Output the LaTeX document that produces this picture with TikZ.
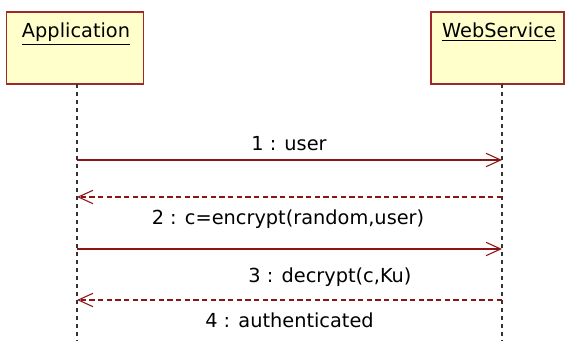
\documentclass[tikz,border=0pt]{standalone}
\usepackage{fontspec}
\setmainfont{DejaVu Sans}
\usetikzlibrary{arrows.meta}
\definecolor{boxfill}{RGB}{255,255,204}
\definecolor{boxline}{RGB}{160,40,40}
\definecolor{msgline}{RGB}{140,20,20}

\begin{document}
\begin{tikzpicture}[x=0.75pt,y=-0.75pt,
		lifebox/.style={draw=boxline,line width=1.2pt,fill=boxfill,minimum height=54pt,inner sep=0pt},
		lifeline/.style={draw=black!80,line width=1.1pt,dash pattern=on 3pt off 3pt},
		call/.style={draw=msgline,line width=0.8pt,-{Straight Barb[length=11pt,width=10pt]}},
		reply/.style={call,dash pattern=on 4pt off 2.5pt},
		msg/.style={anchor=base,font=\fontsize{14.5pt}{16pt}\selectfont,inner sep=0pt}]
		\useasboundingbox (0,0) rectangle (566,341);
		% 箱の描画
		\node[lifebox,minimum width=103pt] (app) at (75,48) {};
		\node[lifebox,minimum width=100pt] (ws) at (497.5,48) {};
		\node[msg] (app_name) at (76,38) {\underline{Application}};
		\node[msg] (ws_name) at (499,38) {\underline{WebService}};
		% 点の定義
		\coordinate (app_top) at (77,84);
		\coordinate (app_end) at (77,341);
		\coordinate (ws_top) at (502,84);
		\coordinate (ws_end) at (502,341);
		\coordinate (a1) at (77,160);
		\coordinate (w1) at (502,160);
		\coordinate (a2) at (77,197);
		\coordinate (w2) at (502,197);
		\coordinate (a3) at (77,249);
		\coordinate (w3) at (502,249);
		\coordinate (a4) at (77,300);
		\coordinate (w4) at (502,300);
		% 生存線の描画
		\draw[lifeline] (app_top)--(app_end);
		\draw[lifeline] (ws_top)--(ws_end);
		% メッセージの描画
		\draw[call] (a1)--(w1);
		\draw[reply] (w2)--(a2);
		\draw[call] (a3)--(w3);
		\draw[reply] (w4)--(a4);
		% ラベルの描画
		\node[msg] (m1) at (289,151) {1 : user};
		\node[msg] (m2) at (288,225) {2 : c=encrypt(random,user)};
		\node[msg] (m3) at (330,282) {3 : decrypt(c,Ku)};
		\node[msg] (m4) at (289.5,327) {4 : authenticated};
	\end{tikzpicture}
\end{document}
